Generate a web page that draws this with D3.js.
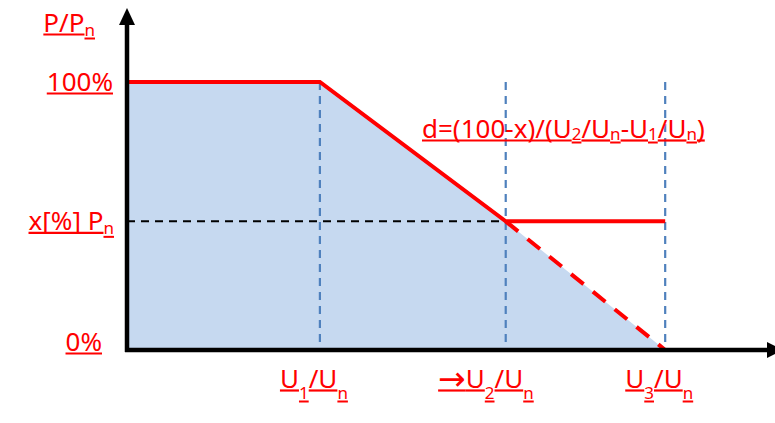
<!DOCTYPE html>
<html>
<head>
<meta charset="utf-8">
<script src="https://cdn.jsdelivr.net/npm/d3@7"></script>
<style>
  html, body { margin: 0; padding: 0; background: #fff; }
  svg { display: block; }
</style>
</head>
<body>
<svg id="chart" width="775" height="423"></svg>
<script>
// ---- data ----
const uValues = [0.300, 0.589, 0.837];          // U1/Un, U2/Un, U3/Un (relative)
const xPercent = 48;                            // x[%] of Pn
const pValues = [100, xPercent, 0];             // y tick values
const pTickLabels = [
  [["100%", 0]],
  [["x[%] P", 0], ["n", 1]],
  [["0%", 0]]
];
const yTitle = [["P/P", 0], ["n", 1]];
const uTickLabels = [
  [["U", 0], ["1", 1], ["/U", 0], ["n", 1]],
  [["\u2192", 2], ["U", 0], ["2", 1], ["/U", 0], ["n", 1]],
  [["U", 0], ["3", 1], ["/U", 0], ["n", 1]]
];
const formula = [["d=(100-x)/(U", 0], ["2", 1], ["/U", 0], ["n", 1], ["-U", 0], ["1", 1], ["/U", 0], ["n", 1], [")", 0]];
// characteristic: solid limit, dashed extension, shaded area
const solidCurve = [[0, 100], [uValues[0], 100], [uValues[1], xPercent], [uValues[2], xPercent]];
const dashedCurve = [[uValues[1], xPercent], [uValues[2], 0]];
const areaCurve = [[0, 100], [uValues[0], 100], [uValues[1], xPercent], [uValues[2], 0]];

// ---- layout ----
const svg = d3.select("#chart");
const x = d3.scaleLinear().domain([0, 1]).range([127, 770]);
const y = d3.scaleLinear().domain([0, 100]).range([350, 82]);
const RED = "#ff0000";
const FONT = "'Noto Sans', sans-serif";

// shaded area
svg.append("path")
  .datum(areaCurve)
  .attr("fill", "#c6d9f0")
  .attr("d", d3.area().x(d => x(d[0])).y0(y(0)).y1(d => y(d[1])));

// blue dashed verticals
svg.selectAll("line.vu").data(uValues).join("line")
  .attr("class", "vu")
  .attr("x1", d => x(d)).attr("x2", d => x(d))
  .attr("y1", y(100)).attr("y2", y(0))
  .attr("stroke", "#4f81bd").attr("stroke-width", 2.2)
  .attr("stroke-dasharray", "8,6");

// black dashed horizontal at x%
svg.append("line")
  .attr("x1", x(0)).attr("x2", x(uValues[1]))
  .attr("y1", y(xPercent)).attr("y2", y(xPercent))
  .attr("stroke", "#000").attr("stroke-width", 2)
  .attr("stroke-dasharray", "8,6");

const line = d3.line().x(d => x(d[0])).y(d => y(d[1]));
svg.append("path").datum(dashedCurve)
  .attr("fill", "none").attr("stroke", RED).attr("stroke-width", 4)
  .attr("stroke-dasharray", "16,12").attr("d", line);
svg.append("path").datum(solidCurve)
  .attr("fill", "none").attr("stroke", RED).attr("stroke-width", 4)
  .attr("d", line);

// axes
const yAxis = d3.axisLeft(y).tickValues([]).tickSize(0);
const xAxis = d3.axisBottom(x).tickValues([]).tickSize(0);
const gy = svg.append("g").attr("transform", `translate(${x(0)},0)`).call(yAxis);
gy.select(".domain").attr("d", `M0,${y(0) + 2}V22`).attr("stroke", "#000").attr("stroke-width", 4.5);
const gx = svg.append("g").attr("transform", `translate(0,${y(0)})`).call(xAxis);
gx.select(".domain").attr("d", `M${x(0) - 2},0H770`).attr("stroke", "#000").attr("stroke-width", 4.5);
// arrowheads
svg.append("path").attr("d", `M${x(0)},8L${x(0) - 8},25L${x(0) + 8},25Z`).attr("fill", "#000");
svg.append("path").attr("d", `M783,${y(0)}L767,${y(0) - 8}L767,${y(0) + 8}Z`).attr("fill", "#000");

// rich text with subscripts + underline
function richText(px, py, parts, anchor, opts) {
  const size = opts.size || 26, sub = opts.sub || 17, shift = opts.shift || 4;
  const g = svg.append("g");
  const items = parts.map(([t, s]) => {
    const el = g.append("text").text(t)
      .attr("font-family", s === 2 ? "'DejaVu Sans', sans-serif" : FONT)
      .attr("font-size", s === 1 ? sub : s === 2 ? 33 : size)
      .attr("fill", RED);
    return { el, s, w: el.node().getComputedTextLength() };
  });
  const total = d3.sum(items, d => d.w);
  let cx = anchor === "end" ? px - total : anchor === "middle" ? px - total / 2 : px;
  items.forEach(it => {
    const by = py + (it.s === 1 ? shift : 0);
    it.el.attr("x", cx).attr("y", by + (it.s === 2 ? 2 : 0));
    g.append("line")
      .attr("x1", cx).attr("x2", cx + it.w)
      .attr("y1", by + 2.5).attr("y2", by + 2.5)
      .attr("stroke", RED).attr("stroke-width", it.s === 1 ? 2 : 2.2);
    cx += it.w;
  });
}

richText(95, 32, yTitle, "end", { shift: 4 });
const yLabelRight = [113, 114, 102];
pValues.forEach((v, i) => richText(yLabelRight[i], y(v) + (i === 2 ? 1 : 9), pTickLabels[i], "end", { shift: 4 }));
uValues.forEach((v, i) => richText(x(v) + 28, 388, uTickLabels[i], "end", { shift: 11 }));
richText(422, 138, formula, "start", { shift: 2 });
</script>
</body>
</html>
